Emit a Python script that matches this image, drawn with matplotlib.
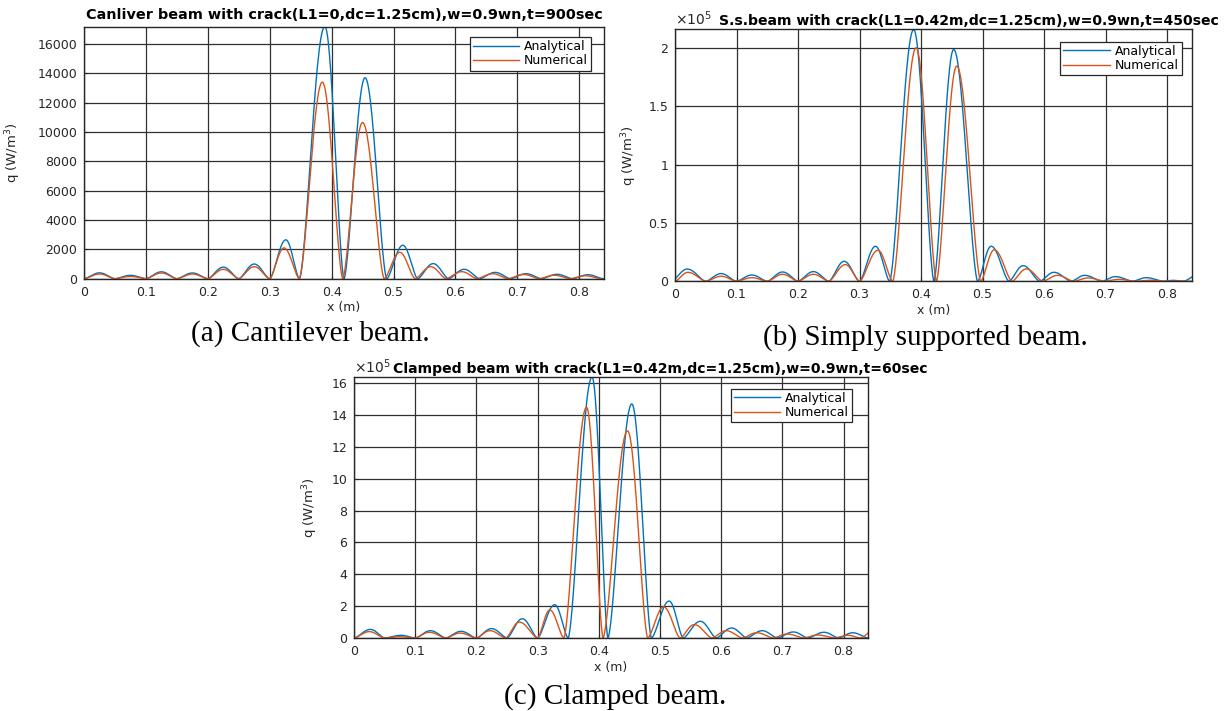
import matplotlib
matplotlib.use('Agg')
import matplotlib.pyplot as plt
import numpy as np
from matplotlib.ticker import ScalarFormatter, FuncFormatter
from matplotlib.transforms import Bbox, TransformedBbox

# each curve is a row of humps: zero crossings, then the x and q of every peak
# (a) cantilever, q in W/m^3
cant_ana_zeros = [0, 0.05, 0.1, 0.15, 0.2, 0.25, 0.3, 0.348, 0.42, 0.489, 0.539,
                  0.589, 0.639, 0.689, 0.739, 0.789, 0.839]
cant_ana_px = [0.025, 0.075, 0.125, 0.175, 0.225, 0.275, 0.326, 0.389, 0.454, 0.515,
               0.564, 0.614, 0.664, 0.714, 0.764, 0.814]
cant_ana_q = [400, 230, 470, 390, 790, 1000, 2650, 17200, 13700, 2280,
              1030, 640, 430, 340, 300, 270]

cant_num_zeros = [0, 0.05, 0.1, 0.15, 0.2, 0.25, 0.3, 0.348, 0.418, 0.485, 0.535,
                  0.585, 0.635, 0.685, 0.735, 0.785, 0.835]
cant_num_px = [0.025, 0.075, 0.125, 0.175, 0.225, 0.275, 0.323, 0.385, 0.450, 0.510,
               0.560, 0.610, 0.660, 0.710, 0.760, 0.810]
cant_num_q = [320, 150, 390, 320, 640, 820, 2100, 13400, 10650, 1800,
              820, 480, 340, 290, 240, 200]

# (b) simply supported
ss_ana_zeros = [-0.006, 0.05, 0.1, 0.15, 0.2, 0.25, 0.3, 0.349, 0.421, 0.492, 0.543,
                0.593, 0.644, 0.694, 0.744, 0.794, 0.826, 0.875]
ss_ana_px = [0.02, 0.075, 0.125, 0.175, 0.225, 0.275, 0.326, 0.388, 0.453, 0.514,
             0.566, 0.616, 0.666, 0.716, 0.766, 0.81, 0.86]
ss_ana_q = [10500, 6600, 5400, 8000, 8300, 17100, 30000, 215500, 198500, 30000,
            13400, 7700, 5100, 4000, 3100, 800, 8000]

ss_num_zeros = [0, 0.05, 0.1, 0.15, 0.2, 0.25, 0.3, 0.354, 0.425, 0.497, 0.548,
                0.598, 0.648, 0.698, 0.748, 0.798, 0.84]
ss_num_px = [0.021, 0.075, 0.125, 0.175, 0.225, 0.277, 0.330, 0.392, 0.458, 0.519,
             0.571, 0.622, 0.672, 0.722, 0.772, 0.818]
ss_num_q = [7700, 4300, 3100, 6000, 6000, 14300, 26600, 200000, 184300, 27000,
            10600, 5100, 2900, 1700, 900, 300]

# (c) clamped
cl_ana_zeros = [0, 0.05, 0.1, 0.15, 0.2, 0.25, 0.3, 0.35, 0.415, 0.486, 0.538,
                0.592, 0.642, 0.692, 0.742, 0.792, 0.84]
cl_ana_px = [0.027, 0.077, 0.125, 0.175, 0.225, 0.275, 0.328, 0.389, 0.454, 0.515,
             0.566, 0.617, 0.667, 0.718, 0.768, 0.815]
cl_ana_q = [54000, 17000, 46000, 42000, 59000, 121000, 209000, 1638000, 1469000, 232000,
            105000, 63000, 46000, 38000, 36000, 33000]

cl_num_zeros = [0, 0.05, 0.1, 0.15, 0.2, 0.248, 0.3, 0.343, 0.407, 0.48, 0.533,
                0.585, 0.635, 0.685, 0.735, 0.785, 0.828, 0.875]
cl_num_px = [0.025, 0.075, 0.123, 0.173, 0.222, 0.27, 0.32, 0.38, 0.447, 0.506,
             0.556, 0.608, 0.658, 0.708, 0.758, 0.807, 0.86]
cl_num_q = [40000, 8000, 36000, 31000, 46000, 100000, 176000, 1448000, 1300000, 195000,
            84000, 46000, 33000, 25000, 19000, 17000, 80000]

blue = '#0072BD'
orange = '#D95319'
ink = '#262626'


def humps(zeros, peak_x, peak_q, power=1.6):
    xs, qs = [], []
    for i in range(len(peak_q)):
        a, b, p, h = zeros[i], zeros[i + 1], peak_x[i], peak_q[i]
        up = np.linspace(a, p, 50)
        down = np.linspace(p, b, 50)[1:]
        xs.append(up)
        qs.append(h * np.sin(np.pi / 2 * (up - a) / (p - a)) ** power)
        xs.append(down)
        qs.append(h * np.sin(np.pi / 2 * (b - down) / (b - p)) ** power)
    return np.concatenate(xs), np.concatenate(qs)


class PlainSci(ScalarFormatter):
    def __call__(self, x, pos=None):
        return '%g' % round(x / 10 ** self.orderOfMagnitude, 6)


def panel(ax, ana, num, ylim, yticks, legend_anchor, label_x, sci=False):
    x, q = humps(*ana)
    ax.plot(x, q, color=blue, lw=1.0, label='Analytical')
    x, q = humps(*num)
    ax.plot(x, q, color=orange, lw=1.0, label='Numerical')
    ax.set_xlim(0, 0.84)
    ax.set_ylim(*ylim)
    ax.set_xticks(np.arange(0, 0.81, 0.1))
    ax.set_yticks(yticks)
    ax.xaxis.set_major_formatter(FuncFormatter(lambda v, p: '%g' % round(v, 3)))
    if sci:
        fmt = PlainSci(useMathText=True)
        fmt.set_powerlimits((5, 5))
        ax.yaxis.set_major_formatter(fmt)
        ax.yaxis.get_offset_text().set_fontsize(10)
        ax.yaxis.get_offset_text().set_color(ink)
    else:
        ax.yaxis.set_major_formatter(FuncFormatter(lambda v, p: '%g' % v))
    ax.grid(True, color='#303030', lw=0.9)
    ax.set_axisbelow(True)
    ax.tick_params(direction='in', length=3, labelsize=9, colors=ink, pad=5)
    for s in ax.spines.values():
        s.set_color(ink)
        s.set_linewidth(1.0)
    ax.set_xlabel('x (m)', fontsize=9, color=ink, labelpad=2)
    ax.set_ylabel('q (W/m$^3$)', fontsize=9.5, color=ink)
    ax.yaxis.set_label_coords(label_x, 0.5)
    leg = ax.legend(loc='upper right', bbox_to_anchor=legend_anchor, borderaxespad=0,
                    fontsize=9, handlelength=3.7, handletextpad=0.4, borderpad=0.25,
                    labelspacing=0.1, fancybox=False, framealpha=1)
    leg.get_frame().set_edgecolor(ink)
    leg.get_frame().set_linewidth(0.9)


fig = plt.figure(figsize=(12.31, 7.11), dpi=100)
plt.rcParams['font.family'] = 'DejaVu Sans'

ax_a = fig.add_axes([0.06824, 0.60802, 0.42242, 0.35443])
ax_b = fig.add_axes([0.54833, 0.60436, 0.41974, 0.35443])
ax_c = fig.add_axes([0.28757, 0.10267, 0.41755, 0.36709])

panel(ax_a, (cant_ana_zeros, cant_ana_px, cant_ana_q), (cant_num_zeros, cant_num_px, cant_num_q),
      (0, 17180), np.arange(0, 16001, 2000), (0.975, 0.959), -0.118)
panel(ax_b, (ss_ana_zeros, ss_ana_px, ss_ana_q), (ss_num_zeros, ss_num_px, ss_num_q),
      (0, 2.158e5), np.arange(0, 2.01e5, 0.5e5), (0.9806, 0.951), -0.070, sci=True)
panel(ax_c, (cl_ana_zeros, cl_ana_px, cl_ana_q), (cl_num_zeros, cl_num_px, cl_num_q),
      (0, 16.38e5), np.arange(0, 16.01e5, 2e5), (0.9695, 0.955), -0.066, sci=True)

ax_a.text(0.5, 1.046, 'Canliver beam with crack(L1=0,dc=1.25cm),w=0.9wn,t=900sec',
          transform=ax_a.transAxes, ha='center', va='center', fontsize=10.4, fontweight='bold')
ax_b.text(0.085, 1.033, 'S.s.beam with crack(L1=0.42m,dc=1.25cm),w=0.9wn,t=450sec',
          transform=ax_b.transAxes, ha='left', va='center', fontsize=10.1, fontweight='bold')
t = ax_c.text(0.0757, 1.031, 'Clamped beam with crack(L1=0.42m,dc=1.25cm),w=0.9wn,t=60sec',
              transform=ax_c.transAxes, ha='left', va='center', fontsize=10.1, fontweight='bold')
t.set_clip_box(TransformedBbox(Bbox.from_extents(0, 0, 9.31, 7.11), fig.dpi_scale_trans))
t.set_clip_on(True)

cap = dict(fontsize=21, family='Liberation Serif', ha='center', va='baseline')
fig.text(0.2518, 0.5204, '(a) Cantilever beam.', **cap)
fig.text(0.7514, 0.5148, '(b) Simply supported beam.', **cap)
fig.text(0.4996, 0.0098, '(c) Clamped beam.', **cap)

fig.savefig('out.png', dpi=100)
